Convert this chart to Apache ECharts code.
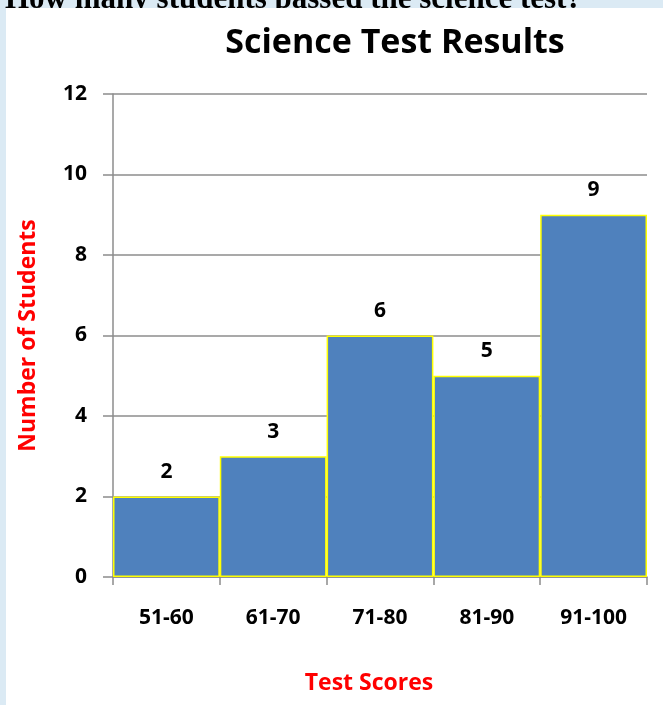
<!DOCTYPE html>
<html>
<head>
<meta charset="utf-8">
<script src="https://cdn.jsdelivr.net/npm/echarts@6/dist/echarts.min.js"></script>
<style>
  html, body { margin: 0; padding: 0; background: #dbeaf4; }
  #main { width: 663px; height: 705px; }
</style>
</head>
<body>
<div id="main"></div>
<script>
// data
let categories = ['51-60', '61-70', '71-80', '81-90', '91-100'];
let students = [2, 3, 6, 5, 9];
let yTicks = [0, 2, 4, 6, 8, 10, 12];

let instance = echarts.init(document.getElementById('main'));
let labelFont = '"Open Sans", "Noto Sans", sans-serif';

instance.setOption({
  backgroundColor: '#dbeaf4',
  title: {
    text: 'Science Test Results',
    left: 390,
    top: 21,
    textAlign: 'center',
    textStyle: {
      fontFamily: labelFont,
      fontWeight: 'bold',
      fontSize: 34,
      color: '#000'
    }
  },
  graphic: [
    {
      // question text, cut off at the top
      type: 'text',
      left: 5,
      top: -16,
      z: -20,
      style: {
        text: 'How many students passed the science test?',
        font: 'bold 31px "Liberation Serif", serif',
        fill: '#000'
      }
    },
    {
      type: 'rect',
      shape: { x: 6, y: 8, width: 660, height: 700 },
      style: { fill: '#fff' },
      z: -10
    }
  ],
  grid: {
    left: 113,
    right: 16,
    top: 94,
    bottom: 128,
    containLabel: false,
    outerBoundsMode: 'none'
  },
  xAxis: {
    type: 'category',
    data: categories,
    name: 'Test Scores',
    nameLocation: 'middle',
    nameGap: 95,
    nameTextStyle: {
      color: '#ff0000',
      fontWeight: 'bold',
      fontSize: 23,
      fontFamily: labelFont,
      padding: [0, 22, 0, 0]
    },
    axisLine: { lineStyle: { color: '#8c8c8c', width: 1.5 } },
    axisTick: { show: true, length: 8, lineStyle: { color: '#8c8c8c', width: 1.5 } },
    axisLabel: {
      color: '#000',
      fontWeight: 'bold',
      fontSize: 21,
      fontFamily: labelFont,
      margin: 31
    }
  },
  yAxis: {
    type: 'value',
    min: yTicks[0],
    max: yTicks[yTicks.length - 1],
    interval: 2,
    name: 'Number of Students',
    nameLocation: 'middle',
    nameGap: 73,
    nameTextStyle: {
      color: '#ff0000',
      fontWeight: 'bold',
      fontSize: 23,
      fontFamily: labelFont
    },
    axisLine: { show: true, lineStyle: { color: '#8c8c8c', width: 1.5 } },
    axisTick: { show: true, length: 10, lineStyle: { color: '#8c8c8c', width: 1.5 } },
    axisLabel: {
      color: '#000',
      fontWeight: 'bold',
      fontSize: 21,
      fontFamily: labelFont,
      margin: 26
    },
    splitLine: { lineStyle: { color: '#8c8c8c', width: 1.5 } }
  },
  series: [{
    name: 'Students',
    type: 'bar',
    data: students,
    barCategoryGap: 0,
    z: 3,
    itemStyle: {
      color: '#4f81bd',
      borderColor: '#ffff00',
      borderWidth: 1.5
    },
    label: {
      show: true,
      position: 'top',
      distance: 14,
      color: '#000',
      fontWeight: 'bold',
      fontSize: 21,
      fontFamily: labelFont
    }
  }],
  animation: false
});
window.onresize = () => {
  instance.resize();
};
</script>
</body>
</html>
